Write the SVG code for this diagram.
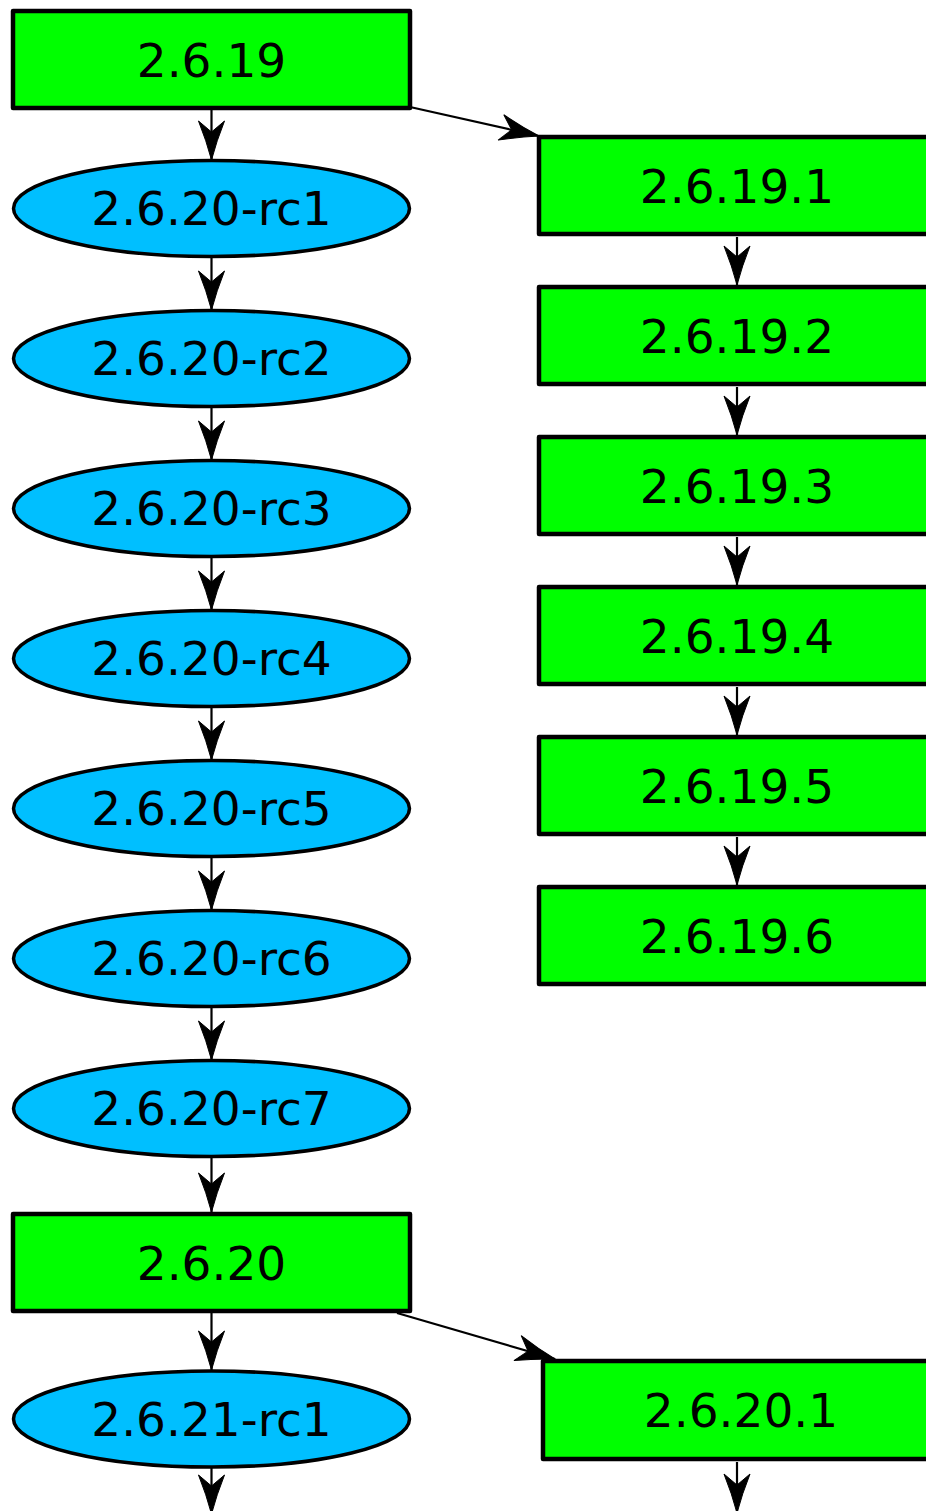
<svg xmlns="http://www.w3.org/2000/svg" width="926" height="1511" viewBox="0 0 926 1511">
<style>
.box{fill:#00ff00;stroke:#000;stroke-width:4.5;stroke-linejoin:round}
.ell{fill:#00bfff;stroke:#000;stroke-width:3.5}
.lbl{font-family:"DejaVu Sans","Liberation Sans",sans-serif;font-size:47px;fill:#000;text-anchor:middle}
.edge{fill:none;stroke:#000;stroke-width:2.2;marker-end:url(#arr)}
</style>
<defs>
<marker id="arr" markerUnits="userSpaceOnUse" markerWidth="40" markerHeight="28" refX="39" refY="13" orient="auto" overflow="visible">
<path d="M0,0 Q20,8 39,13 Q20,18 0,26 L11,13 Z" fill="#000" stroke="#000" stroke-width="1"/>
</marker>
</defs>
<rect width="926" height="1511" fill="#fff"/>
<g id="edges">
<path class="edge" d="M211.5,110 V160"/>
<path class="edge" d="M211.5,257 V310"/>
<path class="edge" d="M211.5,407 V460"/>
<path class="edge" d="M211.5,557 V610"/>
<path class="edge" d="M211.5,707 V760"/>
<path class="edge" d="M211.5,857 V910"/>
<path class="edge" d="M211.5,1007 V1060"/>
<path class="edge" d="M211.5,1157 V1212"/>
<path class="edge" d="M211.5,1313 V1370"/>
<path class="edge" d="M211.5,1467 V1514"/>
<path class="edge" d="M410,107 L539,136"/>
<path class="edge" d="M397,1313 L555,1359"/>
<path class="edge" d="M737,237 V285"/>
<path class="edge" d="M737,387 V435"/>
<path class="edge" d="M737,537 V585"/>
<path class="edge" d="M737,687 V735"/>
<path class="edge" d="M737,837 V885"/>
<path class="edge" d="M737,1462 V1513"/>
</g>
<g id="n2_6_19"><rect class="box" x="13" y="11" width="397" height="97"/><text class="lbl" x="211.5" y="77">2.6.19</text></g>
<g id="n2_6_20_rc1"><ellipse class="ell" cx="211.5" cy="208.5" rx="198" ry="48"/><text class="lbl" x="211.5" y="225">2.6.20-rc1</text></g>
<g id="n2_6_20_rc2"><ellipse class="ell" cx="211.5" cy="358.5" rx="198" ry="48"/><text class="lbl" x="211.5" y="375">2.6.20-rc2</text></g>
<g id="n2_6_20_rc3"><ellipse class="ell" cx="211.5" cy="508.5" rx="198" ry="48"/><text class="lbl" x="211.5" y="525">2.6.20-rc3</text></g>
<g id="n2_6_20_rc4"><ellipse class="ell" cx="211.5" cy="658.5" rx="198" ry="48"/><text class="lbl" x="211.5" y="675">2.6.20-rc4</text></g>
<g id="n2_6_20_rc5"><ellipse class="ell" cx="211.5" cy="808.5" rx="198" ry="48"/><text class="lbl" x="211.5" y="825">2.6.20-rc5</text></g>
<g id="n2_6_20_rc6"><ellipse class="ell" cx="211.5" cy="958.5" rx="198" ry="48"/><text class="lbl" x="211.5" y="975">2.6.20-rc6</text></g>
<g id="n2_6_20_rc7"><ellipse class="ell" cx="211.5" cy="1108.5" rx="198" ry="48"/><text class="lbl" x="211.5" y="1125">2.6.20-rc7</text></g>
<g id="n2_6_20"><rect class="box" x="13" y="1214" width="397" height="97"/><text class="lbl" x="211.5" y="1280">2.6.20</text></g>
<g id="n2_6_21_rc1"><ellipse class="ell" cx="211.5" cy="1419" rx="198" ry="48"/><text class="lbl" x="211.5" y="1436">2.6.21-rc1</text></g>
<g id="n2_6_19_1"><rect class="box" x="539" y="137" width="397" height="97"/><text class="lbl" x="737" y="203">2.6.19.1</text></g>
<g id="n2_6_19_2"><rect class="box" x="539" y="287" width="397" height="97"/><text class="lbl" x="737" y="353">2.6.19.2</text></g>
<g id="n2_6_19_3"><rect class="box" x="539" y="437" width="397" height="97"/><text class="lbl" x="737" y="503">2.6.19.3</text></g>
<g id="n2_6_19_4"><rect class="box" x="539" y="587" width="397" height="97"/><text class="lbl" x="737" y="653">2.6.19.4</text></g>
<g id="n2_6_19_5"><rect class="box" x="539" y="737" width="397" height="97"/><text class="lbl" x="737" y="803">2.6.19.5</text></g>
<g id="n2_6_19_6"><rect class="box" x="539" y="887" width="397" height="97"/><text class="lbl" x="737" y="953">2.6.19.6</text></g>
<g id="n2_6_20_1"><rect class="box" x="543" y="1361" width="397" height="98"/><text class="lbl" x="741" y="1427">2.6.20.1</text></g>
</svg>
